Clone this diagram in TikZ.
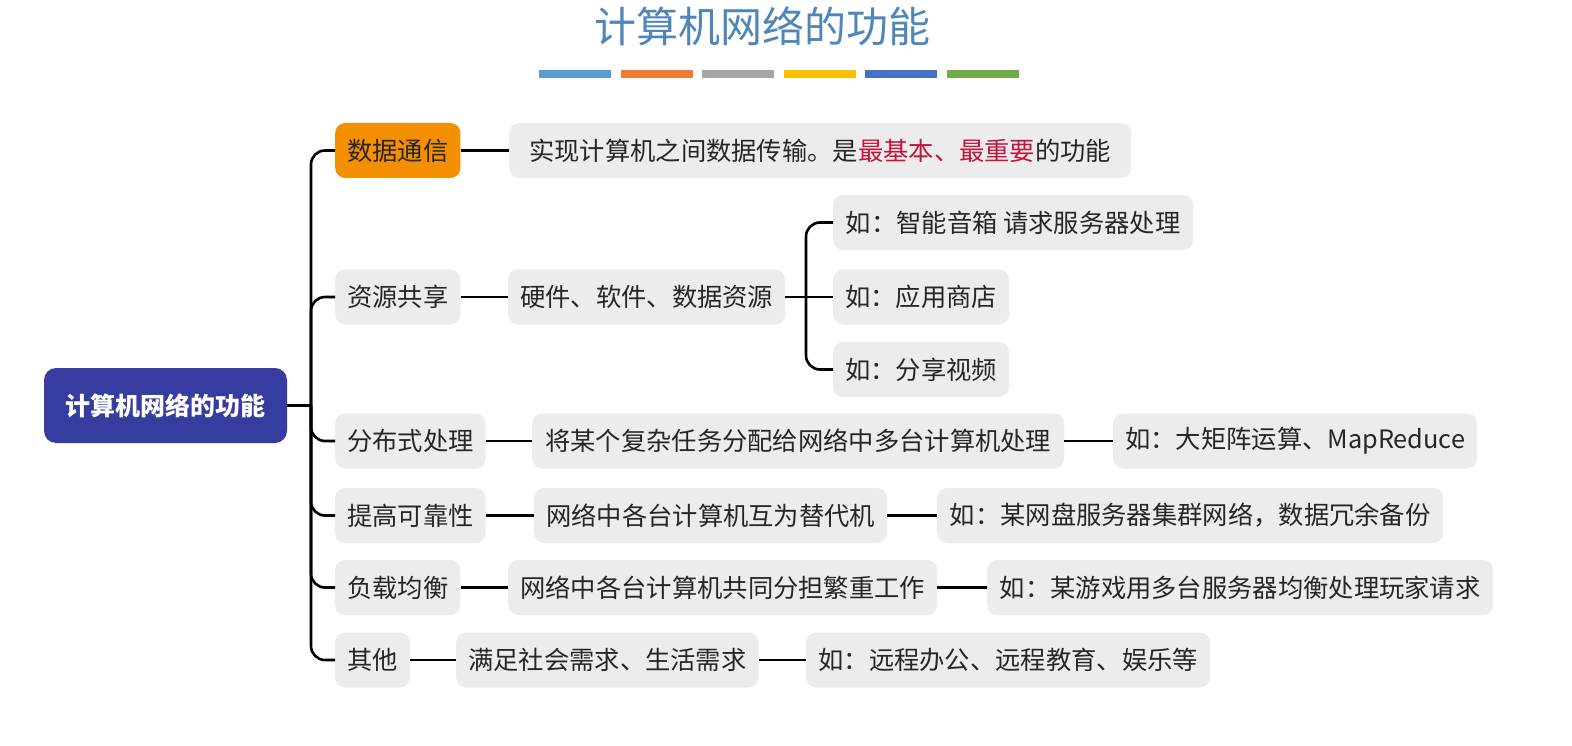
\documentclass[tikz,border=0pt]{standalone}
\usepackage{fontspec}
\setmainfont{Noto Sans CJK SC}
\usetikzlibrary{positioning,calc}
\definecolor{boxgray}{RGB}{236,236,239}
\definecolor{txt}{RGB}{38,38,38}
\definecolor{hl}{RGB}{196,20,56}
\definecolor{orangebox}{RGB}{243,143,0}
\definecolor{rootblue}{RGB}{55,60,160}
\definecolor{titleblue}{RGB}{78,134,186}
\definecolor{barA}{RGB}{91,155,213}
\definecolor{barB}{RGB}{237,125,49}
\definecolor{barC}{RGB}{165,165,165}
\definecolor{barD}{RGB}{255,192,0}
\definecolor{barE}{RGB}{68,114,196}
\definecolor{barF}{RGB}{112,173,71}
\begin{document}
\begin{tikzpicture}[x=1pt,y=-1pt,
  box/.style={fill=boxgray, rounded corners=10pt, minimum height=55pt,
    inner xsep=12pt, inner ysep=0pt, text=txt,
    font=\fontsize{25.3}{27}\selectfont, anchor=west},
  rootbox/.style={fill=rootblue, rounded corners=12pt, minimum width=243pt,
    minimum height=75pt, text=white, font=\fontsize{25}{27}\selectfont\bfseries},
  conn/.style={line width=2.6pt, draw=black},
  bar/.style={minimum width=72pt, minimum height=8pt, inner sep=0pt}]
\useasboundingbox[fill=white] (0,0) rectangle (1572,746);

% title
\node[text=titleblue, font=\fontsize{42}{46}\selectfont] (title) at (762,26) {计算机网络的功能};
\foreach \c [count=\i from 0] in {barA,barB,barC,barD,barE,barF}{
  \node[bar, fill=\c] (bar\i) at (575+81.5*\i,74) {};
}

% root
\node[rootbox] (root) at (165.5,405.5) {计算机网络的功能};
\coordinate (trunk) at (311,405.5);

% branch 1
\node[box, fill=orangebox, minimum width=123pt] (b1) at (335,150.5) {数据通信};
\node[box, minimum width=622pt] (d1) at (509,150.5) {实现计算机之间数据传输。是\textcolor{hl}{最基本、最重要}的功能};

% branch 2
\node[box, minimum width=123pt] (b2) at (335,297) {资源共享};
\node[box, minimum width=275pt] (d2) at (508,297) {硬件、软件、数据资源};
\node[box, minimum width=360pt] (s1) at (833,222.5) {如：智能音箱 请求服务器处理};
\node[box, minimum width=172pt] (s2) at (833,297) {如：应用商店};
\node[box, minimum width=174pt] (s3) at (833,369.5) {如：分享视频};
\coordinate (j2) at (806,297);

% branch 3
\node[box, minimum width=149pt] (b3) at (335,441) {分布式处理};
\node[box, minimum width=532pt] (d3) at (532,441) {将某个复杂任务分配给网络中多台计算机处理};
\node[box, minimum width=360pt] (e3) at (1113,441) {如：大矩阵运算、MapReduce};

% branch 4
\node[box, minimum width=149pt] (b4) at (335,515.5) {提高可靠性};
\node[box, minimum width=352pt] (d4) at (534,515.5) {网络中各台计算机互为替代机};
\node[box, minimum width=506pt] (e4) at (937,515.5) {如：某网盘服务器集群网络，数据冗余备份};

% branch 5
\node[box, minimum width=123pt] (b5) at (335,587.5) {负载均衡};
\node[box, minimum width=429pt] (d5) at (508,587.5) {网络中各台计算机共同分担繁重工作};
\node[box, minimum width=506pt] (e5) at (987,587.5) {如：某游戏用多台服务器均衡处理玩家请求};

% branch 6
\node[box, minimum width=73pt] (b6) at (335,660) {其他};
\node[box, minimum width=301pt] (d6) at (456,660) {满足社会需求、生活需求};
\node[box, minimum width=404pt] (e6) at (806,660) {如：远程办公、远程教育、娱乐等};

% connectors
\draw[conn] (root.east) -- (trunk);
\foreach \b in {b1,b2,b3,b4,b5,b6}{
  \draw[conn, rounded corners=14pt] (trunk) |- (\b.west);
}
\draw[conn] (b1) -- (d1);
\draw[conn] (b2) -- (d2);
\draw[conn] (d2) -- (s2);
\draw[conn, rounded corners=14pt] (j2) |- (s1.west);
\draw[conn, rounded corners=14pt] (j2) |- (s3.west);
\draw[conn] (b3) -- (d3);
\draw[conn] (d3) -- (e3);
\draw[conn] (b4) -- (d4);
\draw[conn] (d4) -- (e4);
\draw[conn] (b5) -- (d5);
\draw[conn] (d5) -- (e5);
\draw[conn] (b6) -- (d6);
\draw[conn] (d6) -- (e6);
\end{tikzpicture}
\end{document}
